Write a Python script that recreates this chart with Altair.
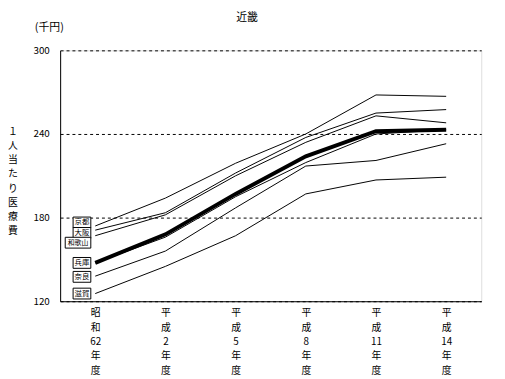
import json
import altair as alt
import pandas as pd

# ---- data ----
categories = ["昭和62年度", "平成2年度", "平成5年度", "平成8年度", "平成11年度", "平成14年度"]
category_lines = [
    ["昭", "和", "62", "年", "度"],
    ["平", "成", "2", "年", "度"],
    ["平", "成", "5", "年", "度"],
    ["平", "成", "8", "年", "度"],
    ["平", "成", "11", "年", "度"],
    ["平", "成", "14", "年", "度"],
]
kyoto = [174, 194, 219, 240, 268, 267]
osaka = [171, 183.5, 212, 237.5, 255, 257.5]
wakayama = [167, 182, 210, 234, 253, 248]
hyogo = [147.5, 166, 195, 219.5, 240, 243]
nara = [138, 156, 187, 217, 221, 233]
shiga = [125.5, 145, 167, 197, 207, 209]
average = [147.5, 168, 197, 224, 242, 243]

series_names = ["京都", "大阪", "和歌山", "兵庫", "奈良", "滋賀"]
series_values = [kyoto, osaka, wakayama, hyogo, nara, shiga]
y_ticks = [120, 180, 240, 300]
y_title_chars = ["１", "人", "当", "た", "り", "医", "療", "費"]
chart_title = "近畿"
unit_text = "(千円)"

# ---- layout (style) ----
Y_MIN, Y_MAX = 120, 300
PLOT_W, PLOT_H = 428, 255
FONT = "Noto Sans CJK JP"
label_nudge = {"京都": 2.5, "大阪": -2.0, "和歌山": -5.0, "兵庫": 0.0, "奈良": -0.5, "滋賀": 0.0}
YT_FIRST_PX, YT_STEP_PX = 83, 14.4   # vertical axis title: first char centre & line step

rows = []
for name, vals in zip(series_names, series_values):
    for c, v in zip(categories, vals):
        rows.append({"series": name, "cat": c, "value": v})
thin_df = pd.DataFrame(rows)
bold_df = pd.DataFrame({"series": "平均", "cat": categories, "value": average})

lab_df = pd.DataFrame({
    "series": series_names,
    "cat": categories[0],
    "pos": [vals[0] + label_nudge[n] for n, vals in zip(series_names, series_values)],
})
lab_df["wide"] = lab_df["series"].str.len() > 2

units_per_px = (Y_MAX - Y_MIN) / PLOT_H
ytitle_df = pd.DataFrame({
    "t": y_title_chars,
    "cat": categories[0],
    "pos": [Y_MAX - (YT_FIRST_PX + i * YT_STEP_PX) * units_per_px for i in range(len(y_title_chars))],
})

label_expr = " : ".join(
    f"datum.value == '{c}' ? {json.dumps(l, ensure_ascii=False)}" for c, l in zip(categories, category_lines)
) + " : datum.value"

x_enc = alt.X(
    "cat:N",
    sort=categories,
    scale=alt.Scale(type="point", padding=0.5),
    axis=alt.Axis(
        title=None, labelAngle=0, ticks=False, grid=False, domainColor="black",
        labelExpr=label_expr, labelFont=FONT, labelFontSize=10, labelColor="black",
        labelLineHeight=14.5, labelPadding=7, labelBaseline="top",
    ),
)
y_enc = alt.Y(
    "value:Q",
    scale=alt.Scale(domain=[Y_MIN, Y_MAX], nice=False, zero=False),
    axis=alt.Axis(
        values=y_ticks, ticks=False, grid=True, gridDash=[3, 3], gridColor="black", gridWidth=1,
        gridOpacity=1, domainColor="black", labelFont=FONT, labelFontSize=10, labelColor="black",
        labelPadding=11, title=None,
    ),
)
x_plain = alt.X("cat:N", sort=categories)

thin = alt.Chart(thin_df).mark_line(color="black", strokeWidth=1).encode(
    x=x_enc, y=y_enc, detail="series:N"
)
bold = alt.Chart(bold_df).mark_line(color="black", strokeWidth=4).encode(x=x_plain, y="value:Q")

box_narrow = alt.Chart(lab_df[~lab_df["wide"]]).mark_rect(
    fill="white", stroke="black", strokeWidth=1,
    xOffset=-22.5, x2Offset=-4.5, yOffset=-5.5, y2Offset=5.5,
).encode(x=x_plain, x2="cat:N", y="pos:Q", y2="pos:Q")
box_wide = alt.Chart(lab_df[lab_df["wide"]]).mark_rect(
    fill="white", stroke="black", strokeWidth=1,
    xOffset=-30.5, x2Offset=-4.5, yOffset=-5.5, y2Offset=5.5,
).encode(x=x_plain, x2="cat:N", y="pos:Q", y2="pos:Q")
box_text_narrow = alt.Chart(lab_df[~lab_df["wide"]]).mark_text(
    font=FONT, fontSize=7.5, color="black", dx=-13.5, align="center", baseline="middle"
).encode(x=x_plain, y="pos:Q", text="series:N")
box_text_wide = alt.Chart(lab_df[lab_df["wide"]]).mark_text(
    font=FONT, fontSize=7, color="black", dx=-17.5, align="center", baseline="middle"
).encode(x=x_plain, y="pos:Q", text="series:N")

unit = alt.Chart(pd.DataFrame({"t": [unit_text]})).mark_text(
    font=FONT, fontSize=11, color="black", align="center", baseline="middle"
).encode(x=alt.value(-11), y=alt.value(-23), text="t:N")

title = alt.Chart(pd.DataFrame({"t": [chart_title]})).mark_text(
    font=FONT, fontSize=11, color="black", align="center", baseline="middle"
).encode(x=alt.value(190), y=alt.value(-33), text="t:N")

ytitle = alt.Chart(ytitle_df).mark_text(
    font=FONT, fontSize=10, color="black", align="center", baseline="middle"
).encode(x=alt.value(-48), y="pos:Q", text="t:N")

chart = alt.layer(
    thin, bold, box_narrow, box_wide, box_text_narrow, box_text_wide, unit, title, ytitle
).properties(
    width=PLOT_W, height=PLOT_H,
    autosize=alt.AutoSizeParams(type="none"),
    padding={"left": 53, "top": 40, "right": 16, "bottom": 76},
).configure_view(strokeWidth=0).configure(background="white")

chart.save("out.html", embed_options={"renderer": "svg", "actions": False})
